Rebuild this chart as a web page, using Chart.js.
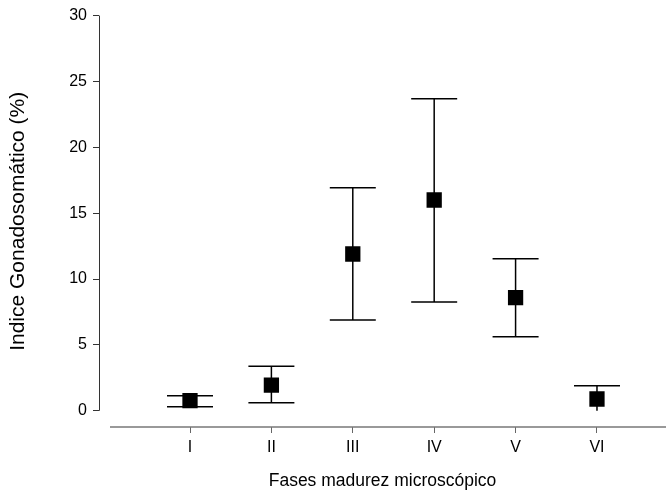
<!DOCTYPE html>
<html>
<head>
<meta charset="utf-8">
<script src="https://cdn.jsdelivr.net/npm/chart.js@4.4.0/dist/chart.umd.min.js"></script>
<style>
    html, body { margin: 0; padding: 0; background: #fff; }
    #wrap { width: 667px; height: 496px; }
</style>
</head>
<body>
<div id="wrap"><canvas id="chart"></canvas></div>
<script>
// Data
const phases = ['I', 'II', 'III', 'IV', 'V', 'VI'];
const meanIGS = [0.76, 1.95, 11.9, 16.0, 8.58, 0.89];
const lowerIGS = [0.3, 0.61, 6.89, 8.25, 5.62, -0.2];
const upperIGS = [1.14, 3.37, 16.93, 23.69, 11.54, 1.9];
const yTicks = [0, 5, 10, 15, 20, 25, 30];

const font = "'Liberation Sans', Arial, sans-serif";

// Error bars (clipped at y = 0) + axis lines
const errorBars = {
    id: 'errorBars',
    beforeDatasetsDraw(chart) {
        const ctx = chart.ctx;
        const x = chart.scales.x;
        const y = chart.scales.y;
        const area = chart.chartArea;
        const y0 = y.getPixelForValue(0);

        ctx.save();
        ctx.beginPath();
        ctx.rect(area.left, area.top - 5, area.right - area.left, y0 - area.top + 5);
        ctx.clip();
        ctx.strokeStyle = '#000';
        ctx.lineWidth = 1.5;
        phases.forEach((p, i) => {
            const px = x.getPixelForValue(i + 1);
            const top = y.getPixelForValue(upperIGS[i]);
            const bot = y.getPixelForValue(lowerIGS[i]);
            ctx.beginPath();
            ctx.moveTo(px, top);
            ctx.lineTo(px, bot);
            ctx.moveTo(px - 23, top);
            ctx.lineTo(px + 23, top);
            ctx.moveTo(px - 23, bot);
            ctx.lineTo(px + 23, bot);
            ctx.stroke();
        });
        ctx.restore();

        ctx.save();
        // y axis line from 0 to 30
        ctx.strokeStyle = '#333';
        ctx.lineWidth = 1;
        const ax = Math.round(area.left) + 0.5;
        ctx.beginPath();
        ctx.moveTo(ax, y.getPixelForValue(30));
        ctx.lineTo(ax, y0);
        ctx.stroke();
        // x axis line, detached below
        ctx.strokeStyle = '#777';
        ctx.lineWidth = 1.5;
        const by = Math.round(area.bottom);
        ctx.beginPath();
        ctx.moveTo(area.left + 11, by);
        ctx.lineTo(area.right, by);
        ctx.stroke();
        ctx.restore();
    }
};

new Chart(document.getElementById('chart'), {
    type: 'scatter',
    data: {
        datasets: [{
            data: phases.map((p, i) => ({ x: i + 1, y: meanIGS[i] })),
            pointStyle: 'rect',
            pointRadius: 10.8,
            pointHoverRadius: 10.8,
            backgroundColor: '#000',
            borderColor: '#000',
            borderWidth: 0
        }]
    },
    options: {
        responsive: true,
        maintainAspectRatio: false,
        animation: false,
        layout: { autoPadding: false, padding: { top: 15, right: 1, left: 0, bottom: 0 } },
        plugins: {
            legend: { display: false },
            tooltip: { enabled: false }
        },
        scales: {
            x: {
                type: 'linear',
                min: -0.118,
                max: 6.848,
                afterBuildTicks: scale => {
                    scale.ticks = phases.map((p, i) => ({ value: i + 1 }));
                },
                afterFit: scale => { scale.height = 69; },
                ticks: {
                    callback: (v) => phases[v - 1],
                    color: '#000',
                    font: { family: font, size: 16 },
                    padding: 5,
                    maxRotation: 0
                },
                grid: { drawOnChartArea: false, tickLength: 6, color: '#666' },
                border: { display: false },
                title: {
                    display: true,
                    text: 'Fases madurez microscópico',
                    color: '#000',
                    font: { family: font, size: 17.5 },
                    padding: { top: 8 }
                }
            },
            y: {
                min: -1.236,
                max: 30,
                afterBuildTicks: scale => {
                    scale.ticks = yTicks.map(v => ({ value: v }));
                },
                afterFit: scale => { scale.width = 99; },
                ticks: {
                    color: '#000',
                    font: { family: font, size: 16 },
                    padding: 6
                },
                grid: { drawOnChartArea: false, tickLength: 6, color: '#333' },
                border: { display: false },
                title: {
                    display: true,
                    text: 'Indice Gonadosomático (%)',
                    color: '#000',
                    font: { family: font, size: 21 },
                    padding: { bottom: 0, top: 6 }
                }
            }
        }
    },
    plugins: [errorBars]
});
</script>
</body>
</html>
